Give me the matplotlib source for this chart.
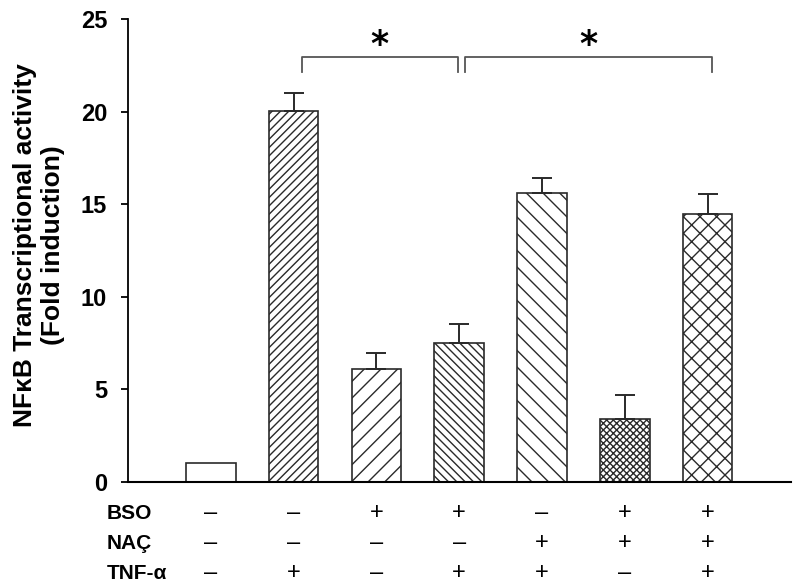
import matplotlib
matplotlib.use("Agg")
import matplotlib.pyplot as plt
import matplotlib.transforms as mtransforms

plt.rcParams['font.family'] = ['Liberation Sans', 'DejaVu Sans']
plt.rcParams['hatch.linewidth'] = 1.0

# Data
values = [1.0, 20.05, 6.1, 7.5, 15.6, 3.4, 14.45]
errors = [0.0, 0.95, 0.85, 1.05, 0.8, 1.3, 1.1]
hatches = ['', '////', '//', '\\\\\\\\', '\\\\', 'xxxxx', 'xx']
bso = ['–', '–', '+', '+', '–', '+', '+']
nac = ['–', '–', '–', '–', '+', '+', '+']
tnf = ['–', '+', '–', '+', '+', '–', '+']
row_labels = ['BSO', 'NAÇ', 'TNF-α']
yticks = [0, 5, 10, 15, 20, 25]
brackets = [(1.1, 2.98, 22.95, 22.15), (3.07, 6.05, 22.95, 22.15)]

fig = plt.figure(figsize=(8, 5.88), dpi=100)
ax = fig.add_axes([0.16, 0.1803, 0.829, 0.7874])

x = list(range(len(values)))
for xi, v, e, h in zip(x, values, errors, hatches):
    ax.bar(xi, v, width=0.6, color='white', edgecolor='#2a2a2a',
           linewidth=1.2, hatch=h, zorder=2)
    if e > 0:
        ax.errorbar(xi, v, yerr=[[0], [e]], fmt='none', ecolor='#2a2a2a',
                    elinewidth=1.4, capsize=7, capthick=1.4, zorder=3)

ax.set_xlim(-1, 7.01)
ax.set_ylim(0, 25)
ax.set_yticks(yticks)
ax.set_yticklabels([str(t) for t in yticks], fontsize=17, fontweight='bold')
ax.tick_params(axis='y', length=5, width=1.3, pad=10, direction='out')
ax.tick_params(axis='x', bottom=False, labelbottom=False)
for s in ['top', 'right']:
    ax.spines[s].set_visible(False)
ax.spines['left'].set_linewidth(1.3)
ax.spines['bottom'].set_linewidth(1.5)

fig.text(39 / 800, 1 - 245 / 588,
         'NFκB Transcriptional activity\n(Fold induction)',
         rotation=90, ha='center', va='center', multialignment='center',
         fontsize=19, fontweight='bold', linespacing=1.2)

# significance brackets
for xa, xb, ytop, ybot in brackets:
    ax.plot([xa, xa, xb, xb], [ybot, ytop, ytop, ybot], color='#555555',
            linewidth=1.3, clip_on=False, zorder=3)
    ax.text((xa + xb) / 2, ytop + 0.1, '*', ha='center', va='baseline',
            fontsize=25, fontweight='bold', family='DejaVu Sans')

# treatment table
trans = mtransforms.blended_transform_factory(ax.transData, ax.transAxes)
row_y = [-0.067, -0.132, -0.197]
for ry, lab, signs in zip(row_y, row_labels, [bso, nac, tnf]):
    ax.text(-1.26, ry, lab, transform=trans, ha='left', va='center',
            fontsize=15, fontweight='bold')
    for xi, sgn in zip(x, signs):
        ax.text(xi, ry, sgn, transform=trans, ha='center', va='center',
                fontsize=17)

fig.savefig('out.png', dpi=100)
